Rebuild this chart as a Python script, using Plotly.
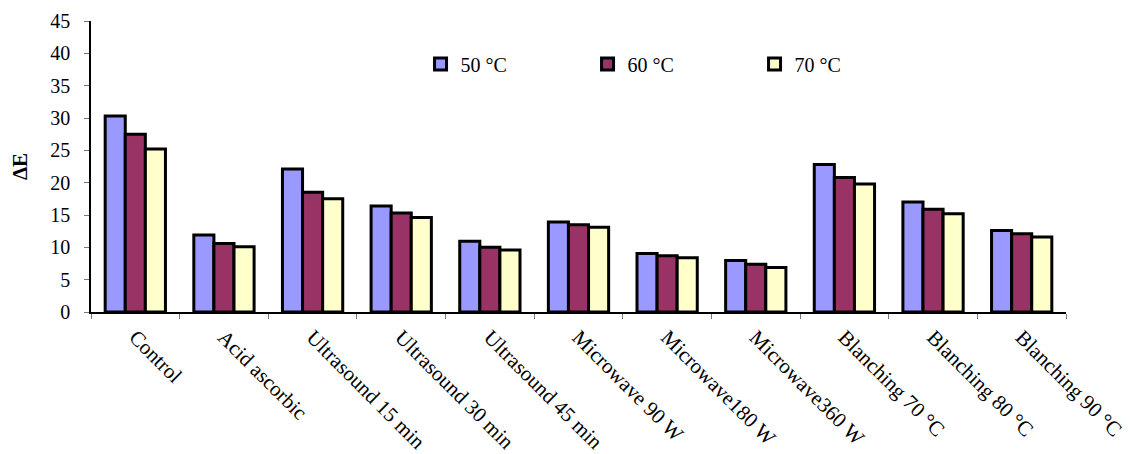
import plotly.graph_objects as go

categories = [
    "Control", "Acid ascorbic", "Ultrasound 15 min", "Ultrasound 30 min",
    "Ultrasound 45 min", "Microwave 90 W", "Microwave180 W", "Microwave360 W",
    "Blanching 70 °C", "Blanching 80 °C", "Blanching 90 °C",
]
series_names = ["50 °C", "60 °C", "70 °C"]
de_50 = [30.3, 11.9, 22.1, 16.4, 10.95, 13.9, 9.05, 7.95, 22.8, 17.0, 12.6]
de_60 = [27.5, 10.6, 18.5, 15.3, 10.0, 13.5, 8.7, 7.4, 20.8, 15.9, 12.1]
de_70 = [25.2, 10.1, 17.5, 14.6, 9.6, 13.1, 8.4, 6.9, 19.8, 15.2, 11.6]
y_ticks = [0, 5, 10, 15, 20, 25, 30, 35, 40, 45]

colors = ["#9999FF", "#993366", "#FFFFCC"]
font_family = "Liberation Serif, Times New Roman, serif"

fig = go.Figure()
for name, vals, col in zip(series_names, [de_50, de_60, de_70], colors):
    fig.add_trace(go.Bar(
        x=categories, y=vals, name=name,
        marker=dict(color=col, line=dict(color="black", width=3)),
    ))

fig.update_layout(
    width=1146, height=454,
    margin=dict(l=91, r=80, t=21, b=142),
    paper_bgcolor="white", plot_bgcolor="white",
    barmode="group", bargap=0.32, bargroupgap=0,
    font=dict(family=font_family, size=20, color="black"),
    showlegend=True,
    legend=dict(
        orientation="h", x=0.338, y=0.852, xanchor="left", yanchor="middle",
        entrywidth=122, entrywidthmode="pixels",
        font=dict(family=font_family, size=20, color="black"),
        bgcolor="rgba(0,0,0,0)", traceorder="normal",
    ),
)
fig.update_xaxes(
    type="category", range=[-0.5, 10.5], automargin=False,
    showline=True, linecolor="black", linewidth=1.5,
    ticks="outside", tickson="boundaries", ticklen=5, tickcolor="#777777",
    tickangle=45, showgrid=False, zeroline=False, ticklabelstandoff=3,
    tickfont=dict(family=font_family, size=21, color="black"),
)
fig.update_yaxes(
    range=[0, 45], tickvals=y_ticks, automargin=False,
    showline=True, linecolor="black", linewidth=1.5,
    ticks="outside", ticklen=5, tickcolor="#777777",
    showgrid=False, zeroline=False, ticklabelstandoff=10,
    tickfont=dict(family=font_family, size=20, color="black"),
    title=dict(text="<b>ΔE</b>", standoff=17,
               font=dict(family=font_family, size=21, color="black")),
)

fig.write_html("out.html")
